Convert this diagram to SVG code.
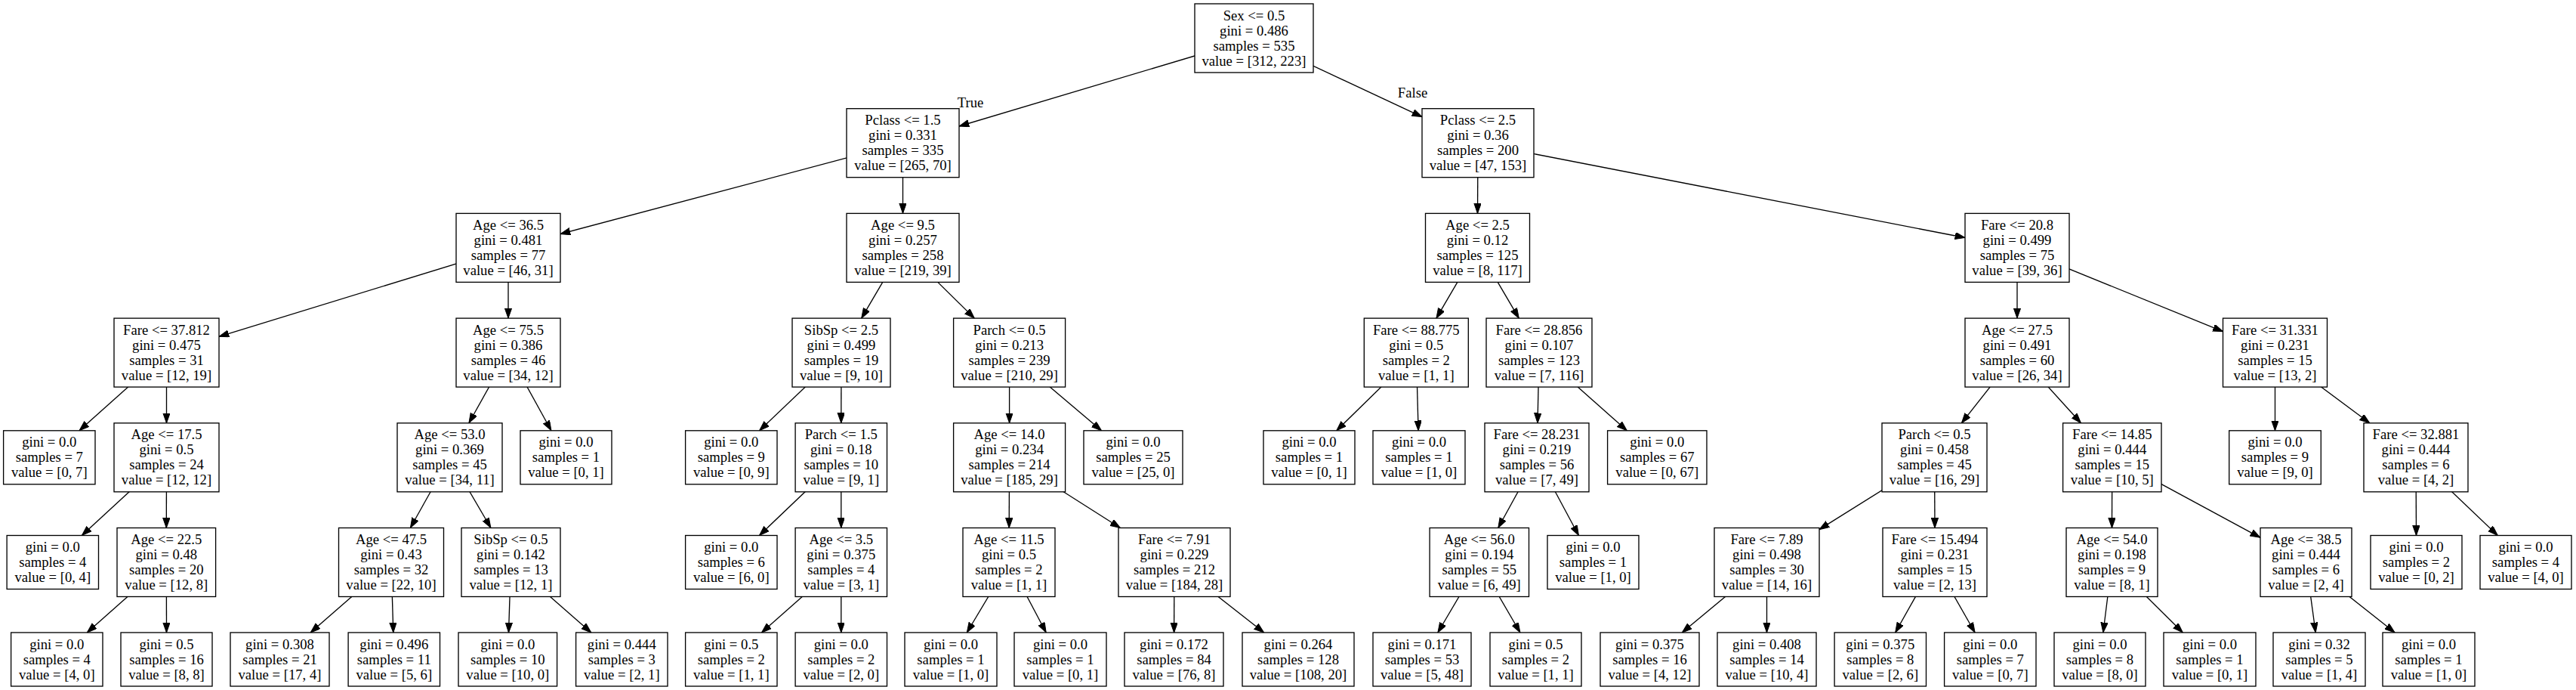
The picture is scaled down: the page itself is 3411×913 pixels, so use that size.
<svg xmlns="http://www.w3.org/2000/svg" width="3411" height="913" viewBox="0 0 3411 913">
<style>
.node rect{fill:#fff;stroke:#000;stroke-width:1.33}
text{font-family:"Liberation Serif","Times New Roman",serif;font-size:18.67px;text-anchor:middle;fill:#000}
#edges line{stroke:#000;stroke-width:1.33;marker-end:url(#arr)}
</style>
<defs>
<marker id="arr" markerUnits="userSpaceOnUse" markerWidth="14" markerHeight="10" refX="13.3" refY="4.67" orient="auto">
<path d="M0,0 L13.3,4.67 L0,9.33 Z" fill="#000" stroke="#000" stroke-width="1"/>
</marker>
</defs>
<rect width="3411" height="913" fill="#fff"/>
<g id="edges">
<line x1="1660.5" y1="50.5" x2="1270" y2="167"/>
<line x1="1660.5" y1="50.5" x2="1883" y2="154.6"/>
<line x1="1195.5" y1="189.2" x2="742" y2="309.6"/>
<line x1="1195.5" y1="189.2" x2="1195.5" y2="282.4"/>
<line x1="1957" y1="189.2" x2="1956.5" y2="282.4"/>
<line x1="1957" y1="189.2" x2="2602" y2="314.5"/>
<line x1="673" y1="327.9" x2="290" y2="445.3"/>
<line x1="673" y1="327.9" x2="673" y2="421.1"/>
<line x1="1195.5" y1="327.9" x2="1140.7" y2="421.1"/>
<line x1="1195.5" y1="327.9" x2="1290.3" y2="421.1"/>
<line x1="1956.5" y1="327.9" x2="1901.9" y2="421.1"/>
<line x1="1956.5" y1="327.9" x2="2011.3" y2="421.1"/>
<line x1="2671" y1="327.9" x2="2671" y2="421.1"/>
<line x1="2671" y1="327.9" x2="2943.5" y2="438.6"/>
<line x1="220.5" y1="466.6" x2="105" y2="569.8"/>
<line x1="220.5" y1="466.6" x2="220.5" y2="559.8"/>
<line x1="673" y1="466.6" x2="620.9" y2="559.8"/>
<line x1="673" y1="466.6" x2="729.9" y2="569.8"/>
<line x1="1114" y1="466.6" x2="1005.6" y2="569.8"/>
<line x1="1114" y1="466.6" x2="1113.8" y2="559.8"/>
<line x1="1336.6" y1="466.6" x2="1336.6" y2="559.8"/>
<line x1="1336.6" y1="466.6" x2="1458.5" y2="569.8"/>
<line x1="1875.3" y1="466.6" x2="1769.8" y2="569.8"/>
<line x1="1875.3" y1="466.6" x2="1878.1" y2="569.8"/>
<line x1="2038" y1="466.6" x2="2036" y2="559.8"/>
<line x1="2038" y1="466.6" x2="2154.3" y2="569.8"/>
<line x1="2671" y1="466.6" x2="2597.4" y2="559.8"/>
<line x1="2671" y1="466.6" x2="2755.5" y2="559.8"/>
<line x1="3012.5" y1="466.6" x2="3012.5" y2="569.8"/>
<line x1="3012.5" y1="466.6" x2="3137.8" y2="559.8"/>
<line x1="220.5" y1="605.3" x2="108.4" y2="708.5"/>
<line x1="220.5" y1="605.3" x2="220.3" y2="698.5"/>
<line x1="595.5" y1="605.3" x2="543.4" y2="698.5"/>
<line x1="595.5" y1="605.3" x2="649.9" y2="698.5"/>
<line x1="1113.8" y1="605.3" x2="1005.5" y2="708.5"/>
<line x1="1113.8" y1="605.3" x2="1113.8" y2="698.5"/>
<line x1="1336.6" y1="605.3" x2="1336.2" y2="698.5"/>
<line x1="1336.6" y1="605.3" x2="1483.4" y2="698.5"/>
<line x1="2035" y1="605.3" x2="1983.8" y2="698.5"/>
<line x1="2035" y1="605.3" x2="2090.4" y2="708.5"/>
<line x1="2561.5" y1="605.3" x2="2409" y2="700.6"/>
<line x1="2561.5" y1="605.3" x2="2562" y2="698.5"/>
<line x1="2796.8" y1="605.3" x2="2796.5" y2="698.5"/>
<line x1="2796.8" y1="605.3" x2="2993" y2="711.3"/>
<line x1="3199" y1="605.3" x2="3199.5" y2="708.5"/>
<line x1="3199" y1="605.3" x2="3307.3" y2="708.5"/>
<line x1="220.3" y1="744" x2="115.3" y2="837"/>
<line x1="220.3" y1="744" x2="220.5" y2="837"/>
<line x1="518" y1="744" x2="411.2" y2="837"/>
<line x1="518" y1="744" x2="520.8" y2="837"/>
<line x1="676.5" y1="744" x2="673.5" y2="837"/>
<line x1="676.5" y1="744" x2="782.8" y2="837"/>
<line x1="1113.8" y1="744" x2="1008.5" y2="837"/>
<line x1="1113.8" y1="744" x2="1113.8" y2="837"/>
<line x1="1336" y1="744" x2="1280.3" y2="837"/>
<line x1="1336" y1="744" x2="1385.2" y2="837"/>
<line x1="1555" y1="744" x2="1554.6" y2="837"/>
<line x1="1555" y1="744" x2="1673.7" y2="837"/>
<line x1="1958.8" y1="744" x2="1903.9" y2="837"/>
<line x1="1958.8" y1="744" x2="2012.9" y2="837"/>
<line x1="2339.5" y1="744" x2="2227.3" y2="837"/>
<line x1="2339.5" y1="744" x2="2339.5" y2="837"/>
<line x1="2562" y1="744" x2="2509.7" y2="837"/>
<line x1="2562" y1="744" x2="2615.1" y2="837"/>
<line x1="2796.5" y1="744" x2="2784.9" y2="837"/>
<line x1="2796.5" y1="744" x2="2890.3" y2="837"/>
<line x1="3053.5" y1="744" x2="3066.2" y2="837"/>
<line x1="3053.5" y1="744" x2="3171.1" y2="837"/>
<text x="1285" y="142">True</text>
<text x="1870.5" y="128.5">False</text>
</g>
<g id="n0" class="node"><rect x="1582" y="5" width="157" height="91"/><text y="26.5"><tspan x="1660.5">Sex &lt;= 0.5</tspan><tspan x="1660.5" dy="20">gini = 0.486</tspan><tspan x="1660.5" dy="20">samples = 535</tspan><tspan x="1660.5" dy="20">value = [312, 223]</tspan></text></g>
<g id="n1" class="node"><rect x="1121" y="143.7" width="149" height="91"/><text y="165.2"><tspan x="1195.5">Pclass &lt;= 1.5</tspan><tspan x="1195.5" dy="20">gini = 0.331</tspan><tspan x="1195.5" dy="20">samples = 335</tspan><tspan x="1195.5" dy="20">value = [265, 70]</tspan></text></g>
<g id="n2" class="node"><rect x="1883" y="143.7" width="148" height="91"/><text y="165.2"><tspan x="1957">Pclass &lt;= 2.5</tspan><tspan x="1957" dy="20">gini = 0.36</tspan><tspan x="1957" dy="20">samples = 200</tspan><tspan x="1957" dy="20">value = [47, 153]</tspan></text></g>
<g id="n3" class="node"><rect x="604" y="282.4" width="138" height="91"/><text y="303.9"><tspan x="673">Age &lt;= 36.5</tspan><tspan x="673" dy="20">gini = 0.481</tspan><tspan x="673" dy="20">samples = 77</tspan><tspan x="673" dy="20">value = [46, 31]</tspan></text></g>
<g id="n4" class="node"><rect x="1121" y="282.4" width="149" height="91"/><text y="303.9"><tspan x="1195.5">Age &lt;= 9.5</tspan><tspan x="1195.5" dy="20">gini = 0.257</tspan><tspan x="1195.5" dy="20">samples = 258</tspan><tspan x="1195.5" dy="20">value = [219, 39]</tspan></text></g>
<g id="n5" class="node"><rect x="1887.5" y="282.4" width="138" height="91"/><text y="303.9"><tspan x="1956.5">Age &lt;= 2.5</tspan><tspan x="1956.5" dy="20">gini = 0.12</tspan><tspan x="1956.5" dy="20">samples = 125</tspan><tspan x="1956.5" dy="20">value = [8, 117]</tspan></text></g>
<g id="n6" class="node"><rect x="2602" y="282.4" width="138" height="91"/><text y="303.9"><tspan x="2671">Fare &lt;= 20.8</tspan><tspan x="2671" dy="20">gini = 0.499</tspan><tspan x="2671" dy="20">samples = 75</tspan><tspan x="2671" dy="20">value = [39, 36]</tspan></text></g>
<g id="n7" class="node"><rect x="151" y="421.1" width="139" height="91"/><text y="442.6"><tspan x="220.5">Fare &lt;= 37.812</tspan><tspan x="220.5" dy="20">gini = 0.475</tspan><tspan x="220.5" dy="20">samples = 31</tspan><tspan x="220.5" dy="20">value = [12, 19]</tspan></text></g>
<g id="n8" class="node"><rect x="604" y="421.1" width="138" height="91"/><text y="442.6"><tspan x="673">Age &lt;= 75.5</tspan><tspan x="673" dy="20">gini = 0.386</tspan><tspan x="673" dy="20">samples = 46</tspan><tspan x="673" dy="20">value = [34, 12]</tspan></text></g>
<g id="n9" class="node"><rect x="1049" y="421.1" width="130" height="91"/><text y="442.6"><tspan x="1114">SibSp &lt;= 2.5</tspan><tspan x="1114" dy="20">gini = 0.499</tspan><tspan x="1114" dy="20">samples = 19</tspan><tspan x="1114" dy="20">value = [9, 10]</tspan></text></g>
<g id="n10" class="node"><rect x="1262.6" y="421.1" width="148" height="91"/><text y="442.6"><tspan x="1336.6">Parch &lt;= 0.5</tspan><tspan x="1336.6" dy="20">gini = 0.213</tspan><tspan x="1336.6" dy="20">samples = 239</tspan><tspan x="1336.6" dy="20">value = [210, 29]</tspan></text></g>
<g id="n11" class="node"><rect x="1806.3" y="421.1" width="138" height="91"/><text y="442.6"><tspan x="1875.3">Fare &lt;= 88.775</tspan><tspan x="1875.3" dy="20">gini = 0.5</tspan><tspan x="1875.3" dy="20">samples = 2</tspan><tspan x="1875.3" dy="20">value = [1, 1]</tspan></text></g>
<g id="n12" class="node"><rect x="1968" y="421.1" width="140" height="91"/><text y="442.6"><tspan x="2038">Fare &lt;= 28.856</tspan><tspan x="2038" dy="20">gini = 0.107</tspan><tspan x="2038" dy="20">samples = 123</tspan><tspan x="2038" dy="20">value = [7, 116]</tspan></text></g>
<g id="n13" class="node"><rect x="2602" y="421.1" width="138" height="91"/><text y="442.6"><tspan x="2671">Age &lt;= 27.5</tspan><tspan x="2671" dy="20">gini = 0.491</tspan><tspan x="2671" dy="20">samples = 60</tspan><tspan x="2671" dy="20">value = [26, 34]</tspan></text></g>
<g id="n14" class="node"><rect x="2943.5" y="421.1" width="138" height="91"/><text y="442.6"><tspan x="3012.5">Fare &lt;= 31.331</tspan><tspan x="3012.5" dy="20">gini = 0.231</tspan><tspan x="3012.5" dy="20">samples = 15</tspan><tspan x="3012.5" dy="20">value = [13, 2]</tspan></text></g>
<g id="n15" class="node"><rect x="4.6" y="569.8" width="121.4" height="71"/><text y="591.3"><tspan x="65.3">gini = 0.0</tspan><tspan x="65.3" dy="20">samples = 7</tspan><tspan x="65.3" dy="20">value = [0, 7]</tspan></text></g>
<g id="n16" class="node"><rect x="151" y="559.8" width="139" height="91"/><text y="581.3"><tspan x="220.5">Age &lt;= 17.5</tspan><tspan x="220.5" dy="20">gini = 0.5</tspan><tspan x="220.5" dy="20">samples = 24</tspan><tspan x="220.5" dy="20">value = [12, 12]</tspan></text></g>
<g id="n17" class="node"><rect x="526" y="559.8" width="139" height="91"/><text y="581.3"><tspan x="595.5">Age &lt;= 53.0</tspan><tspan x="595.5" dy="20">gini = 0.369</tspan><tspan x="595.5" dy="20">samples = 45</tspan><tspan x="595.5" dy="20">value = [34, 11]</tspan></text></g>
<g id="n18" class="node"><rect x="689" y="569.8" width="121" height="71"/><text y="591.3"><tspan x="749.5">gini = 0.0</tspan><tspan x="749.5" dy="20">samples = 1</tspan><tspan x="749.5" dy="20">value = [0, 1]</tspan></text></g>
<g id="n19" class="node"><rect x="907.6" y="569.8" width="121.4" height="71"/><text y="591.3"><tspan x="968.3">gini = 0.0</tspan><tspan x="968.3" dy="20">samples = 9</tspan><tspan x="968.3" dy="20">value = [0, 9]</tspan></text></g>
<g id="n20" class="node"><rect x="1053.1" y="559.8" width="121.4" height="91"/><text y="581.3"><tspan x="1113.8">Parch &lt;= 1.5</tspan><tspan x="1113.8" dy="20">gini = 0.18</tspan><tspan x="1113.8" dy="20">samples = 10</tspan><tspan x="1113.8" dy="20">value = [9, 1]</tspan></text></g>
<g id="n21" class="node"><rect x="1262.6" y="559.8" width="148" height="91"/><text y="581.3"><tspan x="1336.6">Age &lt;= 14.0</tspan><tspan x="1336.6" dy="20">gini = 0.234</tspan><tspan x="1336.6" dy="20">samples = 214</tspan><tspan x="1336.6" dy="20">value = [185, 29]</tspan></text></g>
<g id="n22" class="node"><rect x="1435" y="569.8" width="131" height="71"/><text y="591.3"><tspan x="1500.5">gini = 0.0</tspan><tspan x="1500.5" dy="20">samples = 25</tspan><tspan x="1500.5" dy="20">value = [25, 0]</tspan></text></g>
<g id="n23" class="node"><rect x="1673" y="569.8" width="121" height="71"/><text y="591.3"><tspan x="1733.5">gini = 0.0</tspan><tspan x="1733.5" dy="20">samples = 1</tspan><tspan x="1733.5" dy="20">value = [0, 1]</tspan></text></g>
<g id="n24" class="node"><rect x="1818" y="569.8" width="122" height="71"/><text y="591.3"><tspan x="1879">gini = 0.0</tspan><tspan x="1879" dy="20">samples = 1</tspan><tspan x="1879" dy="20">value = [1, 0]</tspan></text></g>
<g id="n25" class="node"><rect x="1966" y="559.8" width="138" height="91"/><text y="581.3"><tspan x="2035">Fare &lt;= 28.231</tspan><tspan x="2035" dy="20">gini = 0.219</tspan><tspan x="2035" dy="20">samples = 56</tspan><tspan x="2035" dy="20">value = [7, 49]</tspan></text></g>
<g id="n26" class="node"><rect x="2128.6" y="569.8" width="131.4" height="71"/><text y="591.3"><tspan x="2194.3">gini = 0.0</tspan><tspan x="2194.3" dy="20">samples = 67</tspan><tspan x="2194.3" dy="20">value = [0, 67]</tspan></text></g>
<g id="n27" class="node"><rect x="2492" y="559.8" width="139" height="91"/><text y="581.3"><tspan x="2561.5">Parch &lt;= 0.5</tspan><tspan x="2561.5" dy="20">gini = 0.458</tspan><tspan x="2561.5" dy="20">samples = 45</tspan><tspan x="2561.5" dy="20">value = [16, 29]</tspan></text></g>
<g id="n28" class="node"><rect x="2731.6" y="559.8" width="130.4" height="91"/><text y="581.3"><tspan x="2796.8">Fare &lt;= 14.85</tspan><tspan x="2796.8" dy="20">gini = 0.444</tspan><tspan x="2796.8" dy="20">samples = 15</tspan><tspan x="2796.8" dy="20">value = [10, 5]</tspan></text></g>
<g id="n29" class="node"><rect x="2951.7" y="569.8" width="121.6" height="71"/><text y="591.3"><tspan x="3012.5">gini = 0.0</tspan><tspan x="3012.5" dy="20">samples = 9</tspan><tspan x="3012.5" dy="20">value = [9, 0]</tspan></text></g>
<g id="n30" class="node"><rect x="3130" y="559.8" width="138" height="91"/><text y="581.3"><tspan x="3199">Fare &lt;= 32.881</tspan><tspan x="3199" dy="20">gini = 0.444</tspan><tspan x="3199" dy="20">samples = 6</tspan><tspan x="3199" dy="20">value = [4, 2]</tspan></text></g>
<g id="n31" class="node"><rect x="9.1" y="708.5" width="121.4" height="71"/><text y="730"><tspan x="69.8">gini = 0.0</tspan><tspan x="69.8" dy="20">samples = 4</tspan><tspan x="69.8" dy="20">value = [0, 4]</tspan></text></g>
<g id="n32" class="node"><rect x="155" y="698.5" width="130.6" height="91"/><text y="720"><tspan x="220.3">Age &lt;= 22.5</tspan><tspan x="220.3" dy="20">gini = 0.48</tspan><tspan x="220.3" dy="20">samples = 20</tspan><tspan x="220.3" dy="20">value = [12, 8]</tspan></text></g>
<g id="n33" class="node"><rect x="448.5" y="698.5" width="139" height="91"/><text y="720"><tspan x="518">Age &lt;= 47.5</tspan><tspan x="518" dy="20">gini = 0.43</tspan><tspan x="518" dy="20">samples = 32</tspan><tspan x="518" dy="20">value = [22, 10]</tspan></text></g>
<g id="n34" class="node"><rect x="611" y="698.5" width="131" height="91"/><text y="720"><tspan x="676.5">SibSp &lt;= 0.5</tspan><tspan x="676.5" dy="20">gini = 0.142</tspan><tspan x="676.5" dy="20">samples = 13</tspan><tspan x="676.5" dy="20">value = [12, 1]</tspan></text></g>
<g id="n35" class="node"><rect x="907.6" y="708.5" width="121.4" height="71"/><text y="730"><tspan x="968.3">gini = 0.0</tspan><tspan x="968.3" dy="20">samples = 6</tspan><tspan x="968.3" dy="20">value = [6, 0]</tspan></text></g>
<g id="n36" class="node"><rect x="1053.1" y="698.5" width="121.4" height="91"/><text y="720"><tspan x="1113.8">Age &lt;= 3.5</tspan><tspan x="1113.8" dy="20">gini = 0.375</tspan><tspan x="1113.8" dy="20">samples = 4</tspan><tspan x="1113.8" dy="20">value = [3, 1]</tspan></text></g>
<g id="n37" class="node"><rect x="1275" y="698.5" width="122" height="91"/><text y="720"><tspan x="1336">Age &lt;= 11.5</tspan><tspan x="1336" dy="20">gini = 0.5</tspan><tspan x="1336" dy="20">samples = 2</tspan><tspan x="1336" dy="20">value = [1, 1]</tspan></text></g>
<g id="n38" class="node"><rect x="1481" y="698.5" width="148" height="91"/><text y="720"><tspan x="1555">Fare &lt;= 7.91</tspan><tspan x="1555" dy="20">gini = 0.229</tspan><tspan x="1555" dy="20">samples = 212</tspan><tspan x="1555" dy="20">value = [184, 28]</tspan></text></g>
<g id="n39" class="node"><rect x="1893.1" y="698.5" width="131.4" height="91"/><text y="720"><tspan x="1958.8">Age &lt;= 56.0</tspan><tspan x="1958.8" dy="20">gini = 0.194</tspan><tspan x="1958.8" dy="20">samples = 55</tspan><tspan x="1958.8" dy="20">value = [6, 49]</tspan></text></g>
<g id="n40" class="node"><rect x="2049" y="708.5" width="121" height="71"/><text y="730"><tspan x="2109.5">gini = 0.0</tspan><tspan x="2109.5" dy="20">samples = 1</tspan><tspan x="2109.5" dy="20">value = [1, 0]</tspan></text></g>
<g id="n41" class="node"><rect x="2270" y="698.5" width="139" height="91"/><text y="720"><tspan x="2339.5">Fare &lt;= 7.89</tspan><tspan x="2339.5" dy="20">gini = 0.498</tspan><tspan x="2339.5" dy="20">samples = 30</tspan><tspan x="2339.5" dy="20">value = [14, 16]</tspan></text></g>
<g id="n42" class="node"><rect x="2493" y="698.5" width="138" height="91"/><text y="720"><tspan x="2562">Fare &lt;= 15.494</tspan><tspan x="2562" dy="20">gini = 0.231</tspan><tspan x="2562" dy="20">samples = 15</tspan><tspan x="2562" dy="20">value = [2, 13]</tspan></text></g>
<g id="n43" class="node"><rect x="2736" y="698.5" width="121" height="91"/><text y="720"><tspan x="2796.5">Age &lt;= 54.0</tspan><tspan x="2796.5" dy="20">gini = 0.198</tspan><tspan x="2796.5" dy="20">samples = 9</tspan><tspan x="2796.5" dy="20">value = [8, 1]</tspan></text></g>
<g id="n44" class="node"><rect x="2993" y="698.5" width="121" height="91"/><text y="720"><tspan x="3053.5">Age &lt;= 38.5</tspan><tspan x="3053.5" dy="20">gini = 0.444</tspan><tspan x="3053.5" dy="20">samples = 6</tspan><tspan x="3053.5" dy="20">value = [2, 4]</tspan></text></g>
<g id="n45" class="node"><rect x="3139" y="708.5" width="121" height="71"/><text y="730"><tspan x="3199.5">gini = 0.0</tspan><tspan x="3199.5" dy="20">samples = 2</tspan><tspan x="3199.5" dy="20">value = [0, 2]</tspan></text></g>
<g id="n46" class="node"><rect x="3284" y="708.5" width="121" height="71"/><text y="730"><tspan x="3344.5">gini = 0.0</tspan><tspan x="3344.5" dy="20">samples = 4</tspan><tspan x="3344.5" dy="20">value = [4, 0]</tspan></text></g>
<g id="n47" class="node"><rect x="14.6" y="837" width="121.4" height="71"/><text y="858.5"><tspan x="75.3">gini = 0.0</tspan><tspan x="75.3" dy="20">samples = 4</tspan><tspan x="75.3" dy="20">value = [4, 0]</tspan></text></g>
<g id="n48" class="node"><rect x="160" y="837" width="121" height="71"/><text y="858.5"><tspan x="220.5">gini = 0.5</tspan><tspan x="220.5" dy="20">samples = 16</tspan><tspan x="220.5" dy="20">value = [8, 8]</tspan></text></g>
<g id="n49" class="node"><rect x="305" y="837" width="131" height="71"/><text y="858.5"><tspan x="370.5">gini = 0.308</tspan><tspan x="370.5" dy="20">samples = 21</tspan><tspan x="370.5" dy="20">value = [17, 4]</tspan></text></g>
<g id="n50" class="node"><rect x="461.1" y="837" width="121.4" height="71"/><text y="858.5"><tspan x="521.8">gini = 0.496</tspan><tspan x="521.8" dy="20">samples = 11</tspan><tspan x="521.8" dy="20">value = [5, 6]</tspan></text></g>
<g id="n51" class="node"><rect x="607" y="837" width="130.6" height="71"/><text y="858.5"><tspan x="672.3">gini = 0.0</tspan><tspan x="672.3" dy="20">samples = 10</tspan><tspan x="672.3" dy="20">value = [10, 0]</tspan></text></g>
<g id="n52" class="node"><rect x="762.6" y="837" width="121.4" height="71"/><text y="858.5"><tspan x="823.3">gini = 0.444</tspan><tspan x="823.3" dy="20">samples = 3</tspan><tspan x="823.3" dy="20">value = [2, 1]</tspan></text></g>
<g id="n53" class="node"><rect x="907.6" y="837" width="121.4" height="71"/><text y="858.5"><tspan x="968.3">gini = 0.5</tspan><tspan x="968.3" dy="20">samples = 2</tspan><tspan x="968.3" dy="20">value = [1, 1]</tspan></text></g>
<g id="n54" class="node"><rect x="1053.1" y="837" width="121.4" height="71"/><text y="858.5"><tspan x="1113.8">gini = 0.0</tspan><tspan x="1113.8" dy="20">samples = 2</tspan><tspan x="1113.8" dy="20">value = [2, 0]</tspan></text></g>
<g id="n55" class="node"><rect x="1198" y="837" width="122" height="71"/><text y="858.5"><tspan x="1259">gini = 0.0</tspan><tspan x="1259" dy="20">samples = 1</tspan><tspan x="1259" dy="20">value = [1, 0]</tspan></text></g>
<g id="n56" class="node"><rect x="1343" y="837" width="122" height="71"/><text y="858.5"><tspan x="1404">gini = 0.0</tspan><tspan x="1404" dy="20">samples = 1</tspan><tspan x="1404" dy="20">value = [0, 1]</tspan></text></g>
<g id="n57" class="node"><rect x="1489" y="837" width="131" height="71"/><text y="858.5"><tspan x="1554.5">gini = 0.172</tspan><tspan x="1554.5" dy="20">samples = 84</tspan><tspan x="1554.5" dy="20">value = [76, 8]</tspan></text></g>
<g id="n58" class="node"><rect x="1645" y="837" width="148" height="71"/><text y="858.5"><tspan x="1719">gini = 0.264</tspan><tspan x="1719" dy="20">samples = 128</tspan><tspan x="1719" dy="20">value = [108, 20]</tspan></text></g>
<g id="n59" class="node"><rect x="1818" y="837" width="130" height="71"/><text y="858.5"><tspan x="1883">gini = 0.171</tspan><tspan x="1883" dy="20">samples = 53</tspan><tspan x="1883" dy="20">value = [5, 48]</tspan></text></g>
<g id="n60" class="node"><rect x="1973" y="837" width="121" height="71"/><text y="858.5"><tspan x="2033.5">gini = 0.5</tspan><tspan x="2033.5" dy="20">samples = 2</tspan><tspan x="2033.5" dy="20">value = [1, 1]</tspan></text></g>
<g id="n61" class="node"><rect x="2119" y="837" width="131" height="71"/><text y="858.5"><tspan x="2184.5">gini = 0.375</tspan><tspan x="2184.5" dy="20">samples = 16</tspan><tspan x="2184.5" dy="20">value = [4, 12]</tspan></text></g>
<g id="n62" class="node"><rect x="2274" y="837" width="131" height="71"/><text y="858.5"><tspan x="2339.5">gini = 0.408</tspan><tspan x="2339.5" dy="20">samples = 14</tspan><tspan x="2339.5" dy="20">value = [10, 4]</tspan></text></g>
<g id="n63" class="node"><rect x="2429.1" y="837" width="121.4" height="71"/><text y="858.5"><tspan x="2489.8">gini = 0.375</tspan><tspan x="2489.8" dy="20">samples = 8</tspan><tspan x="2489.8" dy="20">value = [2, 6]</tspan></text></g>
<g id="n64" class="node"><rect x="2574.6" y="837" width="121.4" height="71"/><text y="858.5"><tspan x="2635.3">gini = 0.0</tspan><tspan x="2635.3" dy="20">samples = 7</tspan><tspan x="2635.3" dy="20">value = [0, 7]</tspan></text></g>
<g id="n65" class="node"><rect x="2720" y="837" width="121" height="71"/><text y="858.5"><tspan x="2780.5">gini = 0.0</tspan><tspan x="2780.5" dy="20">samples = 8</tspan><tspan x="2780.5" dy="20">value = [8, 0]</tspan></text></g>
<g id="n66" class="node"><rect x="2865" y="837" width="122" height="71"/><text y="858.5"><tspan x="2926">gini = 0.0</tspan><tspan x="2926" dy="20">samples = 1</tspan><tspan x="2926" dy="20">value = [0, 1]</tspan></text></g>
<g id="n67" class="node"><rect x="3010" y="837" width="122" height="71"/><text y="858.5"><tspan x="3071">gini = 0.32</tspan><tspan x="3071" dy="20">samples = 5</tspan><tspan x="3071" dy="20">value = [1, 4]</tspan></text></g>
<g id="n68" class="node"><rect x="3155" y="837" width="122" height="71"/><text y="858.5"><tspan x="3216">gini = 0.0</tspan><tspan x="3216" dy="20">samples = 1</tspan><tspan x="3216" dy="20">value = [1, 0]</tspan></text></g>
</svg>
